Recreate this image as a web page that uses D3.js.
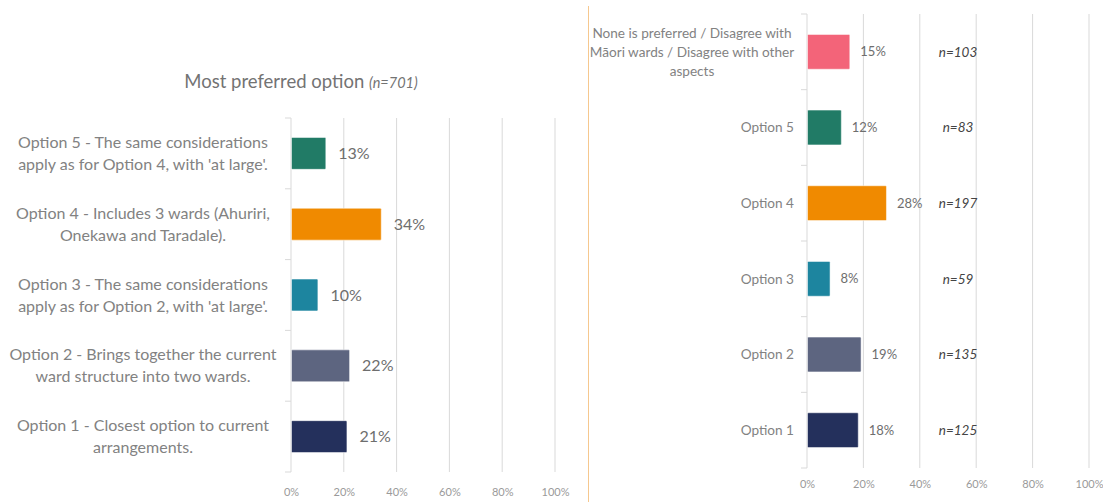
<!DOCTYPE html>
<html>
<head>
<meta charset="utf-8">
<script src="https://cdn.jsdelivr.net/npm/d3@7"></script>
<style>
  html, body { margin: 0; padding: 0; background: #ffffff; }
  svg { display: block; font-family: Lato, "Open Sans", sans-serif; }
</style>
</head>
<body>
<svg id="chart" width="1103" height="502"></svg>
<script>
// Left panel: most preferred option across all respondents
const leftCategories = [
  ["Option 5 - The same considerations", "apply as for Option 4, with 'at large'."],
  ["Option 4 - Includes 3 wards (Ahuriri,", "Onekawa and Taradale)."],
  ["Option 3 - The same considerations", "apply as for Option 2, with 'at large'."],
  ["Option 2 - Brings together the current", "ward structure into two wards."],
  ["Option 1 - Closest option to current", "arrangements."]
];
const leftValues = [13, 34, 10, 22, 21];
const leftColors = ["#217b66", "#f08a00", "#1d859f", "#5d6580", "#24305c"];

// Right panel: share per option with respondent counts
const rightCategories = [
  ["None is preferred / Disagree with", "Māori wards / Disagree with other", "aspects"],
  ["Option 5"],
  ["Option 4"],
  ["Option 3"],
  ["Option 2"],
  ["Option 1"]
];
const rightValues = [15, 12, 28, 8, 19, 18];
const rightCounts = ["n=103", "n=83", "n=197", "n=59", "n=135", "n=125"];
const rightColors = ["#f36479", "#217b66", "#f08a00", "#1d859f", "#5d6580", "#24305c"];

const tickValues = [0, 20, 40, 60, 80, 100];
const tickLabels = ["0%", "20%", "40%", "60%", "80%", "100%"];

const titleMain = "Most preferred option";
const titleNote = "(n=701)";

const svg = d3.select("#chart");

function drawPanel(cfg) {
  const g = svg.append("g");
  const x = d3.scaleLinear().domain([0, 100]).range([cfg.x0, cfg.x1]);
  const y = d3.scaleBand()
    .domain(d3.range(cfg.values.length))
    .range([cfg.y0, cfg.y1])
    .paddingInner(cfg.pad).paddingOuter(cfg.pad / 2);

  // vertical gridlines
  g.append("g").selectAll("line").data(tickValues.slice(1)).join("line")
    .attr("x1", d => x(d)).attr("x2", d => x(d))
    .attr("y1", cfg.y0).attr("y2", cfg.y1)
    .attr("stroke", "#d9d9d9").attr("stroke-width", 1);

  // category axis with tick marks at band boundaries
  const bounds = d3.range(cfg.values.length + 1).map(i => cfg.y0 + i * (cfg.y1 - cfg.y0) / cfg.values.length);
  g.append("line")
    .attr("x1", x(0)).attr("x2", x(0))
    .attr("y1", cfg.y0).attr("y2", cfg.y1)
    .attr("stroke", "#d9d9d9");
  g.append("g").selectAll("line").data(bounds).join("line")
    .attr("x1", x(0) - 6).attr("x2", x(0))
    .attr("y1", d => d).attr("y2", d => d)
    .attr("stroke", "#d9d9d9");

  // value axis labels
  const xAxis = d3.axisBottom(x).tickValues(tickValues)
    .tickFormat((d, i) => tickLabels[i]).tickSize(0).tickPadding(0);
  const ax = g.append("g").attr("transform", `translate(0,${cfg.tickY})`).call(xAxis);
  ax.select(".domain").remove();
  ax.selectAll("text")
    .attr("dy", "0.35em")
    .attr("fill", "#9a9a9a")
    .style("font-size", "11px")
    .style("font-family", "Lato, sans-serif");

  // bars
  g.append("g").selectAll("rect").data(cfg.values).join("rect")
    .attr("x", x(0) + 0.5)
    .attr("y", (d, i) => y(i))
    .attr("width", d => x(d) - x(0))
    .attr("height", y.bandwidth())
    .attr("rx", 1)
    .attr("fill", (d, i) => cfg.colors[i])
    .attr("stroke", "#ffffff").attr("stroke-opacity", 0.5).attr("stroke-width", 1);

  // value labels
  g.append("g").selectAll("text").data(cfg.values).join("text")
    .attr("x", d => x(d) + cfg.labelGap)
    .attr("y", (d, i) => y(i) + y.bandwidth() / 2)
    .attr("dy", "0.35em")
    .attr("fill", "#6e6e6e")
    .style("font-size", cfg.valueSize)
    .text(d => d + "%");

  // category labels
  const cat = g.append("g").selectAll("text").data(cfg.categories).join("text")
    .attr("fill", "#828282")
    .style("font-size", cfg.catSize)
    .attr("text-anchor", d => (d.length > 1 ? "middle" : "end"))
    .attr("x", d => (d.length > 1 ? cfg.catCenter : cfg.catRight));
  cat.each(function (lines, i) {
    const cy = y(i) + y.bandwidth() / 2;
    const top = cy - (lines.length - 1) * cfg.lineH / 2;
    d3.select(this).selectAll("tspan").data(lines).join("tspan")
      .attr("x", lines.length > 1 ? cfg.catCenter : cfg.catRight)
      .attr("y", (l, j) => top + j * cfg.lineH)
      .attr("dy", "0.35em")
      .text(l => l);
  });

  return { g, x, y };
}

// left chart
const left = drawPanel({
  categories: leftCategories, values: leftValues, colors: leftColors,
  x0: 291, x1: 555, y0: 118, y1: 472, pad: 0.55, tickY: 492,
  labelGap: 13, valueSize: "16px", catSize: "16px", lineH: 22,
  catCenter: 143, catRight: 274
});

// title
const title = svg.append("text")
  .attr("x", 301).attr("y", 88)
  .attr("text-anchor", "middle")
  .attr("fill", "#737373")
  .style("font-size", "18.5px");
title.append("tspan").text(titleMain + " ");
title.append("tspan").style("font-style", "italic").style("font-size", "14.5px").text(titleNote);

// separator between the two panels
svg.append("line")
  .attr("x1", 588.5).attr("x2", 588.5)
  .attr("y1", 6).attr("y2", 502)
  .attr("stroke", "#f6c88f").attr("stroke-width", 1);

// right chart
const right = drawPanel({
  categories: rightCategories, values: rightValues, colors: rightColors,
  x0: 807, x1: 1089, y0: 14, y1: 468, pad: 0.54, tickY: 484,
  labelGap: 11, valueSize: "13px", catSize: "13.6px", lineH: 19,
  catCenter: 692, catRight: 794
});

// respondent counts
right.g.append("g").selectAll("text").data(rightCounts).join("text")
  .attr("x", 958)
  .attr("y", (d, i) => right.y(i) + right.y.bandwidth() / 2)
  .attr("dy", "0.35em")
  .attr("text-anchor", "middle")
  .attr("fill", "#444444")
  .style("font-size", "13.5px")
  .style("font-style", "italic")
  .text(d => d);
</script>
</body>
</html>
